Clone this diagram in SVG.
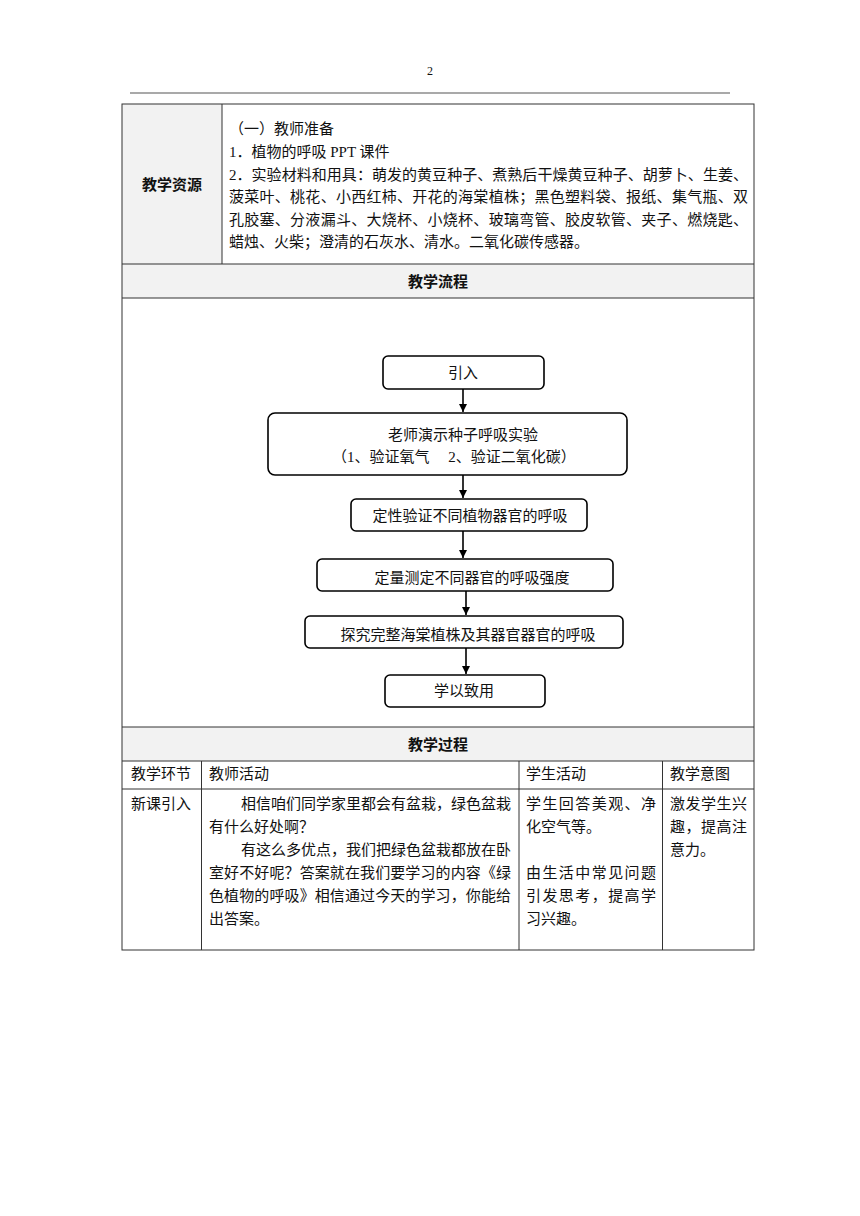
<svg xmlns="http://www.w3.org/2000/svg" width="860" height="1216" viewBox="0 0 860 1216">
<defs>
<style>
text{font-family:"Liberation Serif","Noto Sans CJK SC",serif;font-size:15px;fill:#111}
.b{font-weight:bold}
.c{text-anchor:middle}
.g{fill:#f2f2f2}
.ln{stroke:#333;stroke-width:1;fill:none}
.box{fill:#fff;stroke:#000;stroke-width:1.6}
.ar{stroke:#000;stroke-width:1.6;fill:none}
</style>
<marker id="ah" markerWidth="10" markerHeight="10" refX="8" refY="4" orient="auto" markerUnits="userSpaceOnUse">
<path d="M0,0 L8,4 L0,8 Z" fill="#000"/>
</marker>
</defs>
<rect width="860" height="1216" fill="#fff"/>
<text x="430" y="75" class="c" style="font-size:12px">2</text>
<line x1="130" y1="93" x2="730" y2="93" stroke="#555" stroke-width="1.2"/>

<g id="table">
<rect x="122" y="104" width="100" height="160" class="g"/>
<rect x="122" y="264" width="632" height="34" class="g"/>
<rect x="122" y="727" width="632" height="34" class="g"/>
<rect x="122" y="104" width="632" height="846" class="ln" stroke-width="1.4"/>
<line x1="222" y1="104" x2="222" y2="264" class="ln"/>
<line x1="122" y1="264" x2="754" y2="264" class="ln"/>
<line x1="122" y1="298" x2="754" y2="298" class="ln"/>
<line x1="122" y1="727" x2="754" y2="727" class="ln"/>
<line x1="122" y1="761" x2="754" y2="761" class="ln"/>
<line x1="122" y1="789" x2="754" y2="789" class="ln"/>
<line x1="201.5" y1="761" x2="201.5" y2="950" class="ln"/>
<line x1="519" y1="761" x2="519" y2="950" class="ln"/>
<line x1="662.5" y1="761" x2="662.5" y2="950" class="ln"/>
</g>

<g id="resources">
<text x="172" y="190" class="c b">教学资源</text>
<text x="229" y="134">（一）教师准备</text>
<text x="229" y="157">1．植物的呼吸 PPT 课件</text>
<text x="229" y="180" textLength="519" lengthAdjust="spacing">2．实验材料和用具：萌发的黄豆种子、煮熟后干燥黄豆种子、胡萝卜、生姜、</text>
<text x="229" y="202" textLength="519" lengthAdjust="spacing">菠菜叶、桃花、小西红柿、开花的海棠植株；黑色塑料袋、报纸、集气瓶、双</text>
<text x="229" y="225" textLength="519" lengthAdjust="spacing">孔胶塞、分液漏斗、大烧杯、小烧杯、玻璃弯管、胶皮软管、夹子、燃烧匙、</text>
<text x="229" y="247">蜡烛、火柴；澄清的石灰水、清水。二氧化碳传感器。</text>
<text x="438" y="287" class="c b">教学流程</text>
</g>

<g id="connectors">
<line x1="463" y1="389" x2="463" y2="412" class="ar" marker-end="url(#ah)"/>
<line x1="463" y1="475" x2="463" y2="498" class="ar" marker-end="url(#ah)"/>
<line x1="463" y1="531" x2="463" y2="558" class="ar" marker-end="url(#ah)"/>
<line x1="466" y1="591" x2="466" y2="615" class="ar" marker-end="url(#ah)"/>
<line x1="466" y1="648" x2="466" y2="674" class="ar" marker-end="url(#ah)"/>
</g>

<g id="n1"><rect x="383" y="356" width="161" height="33" rx="5" class="box"/><text x="463" y="378" class="c">引入</text></g>
<g id="n2"><rect x="268" y="413" width="359" height="62" rx="7" class="box"/><text x="463" y="440" class="c">老师演示种子呼吸实验</text><text x="454" y="462" class="c">（1、验证氧气　  2、验证二氧化碳）</text></g>
<g id="n3"><rect x="351" y="499" width="236" height="32" rx="5" class="box"/><text x="470" y="521" class="c">定性验证不同植物器官的呼吸</text></g>
<g id="n4"><rect x="317" y="559" width="296" height="32" rx="5" class="box"/><text x="472" y="583" class="c">定量测定不同器官的呼吸强度</text></g>
<g id="n5"><rect x="305" y="616" width="318" height="32" rx="5" class="box"/><text x="468" y="640" class="c">探究完整海棠植株及其器官器官的呼吸</text></g>
<g id="n6"><rect x="385" y="675" width="160" height="32" rx="5" class="box"/><text x="464" y="696" class="c">学以致用</text></g>

<g id="process">
<text x="438" y="750" class="c b">教学过程</text>
<text x="131" y="779">教学环节</text>
<text x="209" y="779">教师活动</text>
<text x="526" y="779">学生活动</text>
<text x="670" y="779">教学意图</text>
<text x="131" y="809">新课引入</text>
<text x="241" y="809" textLength="270" lengthAdjust="spacing">相信咱们同学家里都会有盆栽，绿色盆栽</text>
<text x="209" y="832">有什么好处啊？</text>
<text x="241" y="855" textLength="270" lengthAdjust="spacing">有这么多优点，我们把绿色盆栽都放在卧</text>
<text x="209" y="878" textLength="302" lengthAdjust="spacing">室好不好呢？答案就在我们要学习的内容《绿</text>
<text x="209" y="901" textLength="302" lengthAdjust="spacing">色植物的呼吸》相信通过今天的学习，你能给</text>
<text x="209" y="924">出答案。</text>
<text x="526" y="809" textLength="130" lengthAdjust="spacing">学生回答美观、净</text>
<text x="526" y="832">化空气等。</text>
<text x="526" y="878" textLength="130" lengthAdjust="spacing">由生活中常见问题</text>
<text x="526" y="901" textLength="130" lengthAdjust="spacing">引发思考，提高学</text>
<text x="526" y="924">习兴趣。</text>
<text x="670" y="809" textLength="77" lengthAdjust="spacing">激发学生兴</text>
<text x="670" y="832" textLength="77" lengthAdjust="spacing">趣，提高注</text>
<text x="670" y="855">意力。</text>
</g>
</svg>
